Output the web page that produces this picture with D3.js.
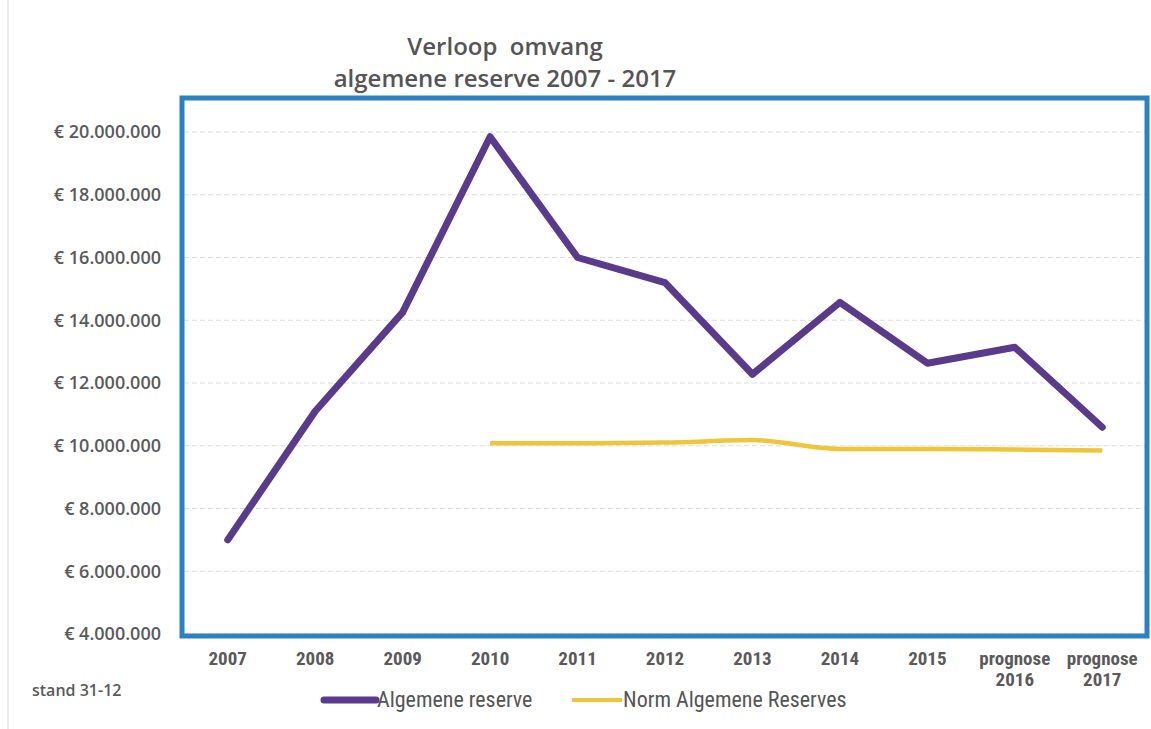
<!DOCTYPE html>
<html><head><meta charset="utf-8">
<script src="https://cdn.jsdelivr.net/npm/d3@7"></script>
<style>body{margin:0;background:#fff}svg{display:block}</style>
</head><body>
<svg id="c" width="1151" height="729"></svg>
<script>
const categories = ["2007","2008","2009","2010","2011","2012","2013","2014","2015","prognose 2016","prognose 2017"];
const reserve = [7.0e6, 11.1e6, 14.25e6, 19.85e6, 16.0e6, 15.2e6, 12.28e6, 14.57e6, 12.63e6, 13.14e6, 10.59e6];
const norm = [null, null, null, 10.08e6, 10.08e6, 10.1e6, 10.18e6, 9.9e6, 9.9e6, 9.88e6, 9.85e6];
const yTicks = [4e6,6e6,8e6,10e6,12e6,14e6,16e6,18e6,20e6];
const seriesNames = ["Algemene reserve","Norm Algemene Reserves"];
const colors = ["#5a3a8a","#f0c53a"];

const svg = d3.select("#c");
const L = 184, R = 1146, B = 634;
const x = d3.scalePoint().domain(categories).range([L, R]).padding(0.5);
const y = d3.scaleLinear().domain([4e6, 20e6]).range([B, 132]);

// faint scan edge at left
svg.append("line").attr("x1",8).attr("x2",8).attr("y1",0).attr("y2",729).attr("stroke","#e6e6e6").attr("stroke-width",1.5);

// gridlines
svg.append("g").selectAll("line").data(yTicks).join("line")
  .attr("x1", L).attr("x2", R).attr("y1", d=>y(d)).attr("y2", d=>y(d))
  .attr("stroke","#dcdcdc").attr("stroke-width",1).attr("stroke-dasharray","5,3");

// plot frame
svg.append("rect").attr("x",182).attr("y",98).attr("width",965).attr("height",538)
  .attr("fill","none").attr("stroke","#2a82c4").attr("stroke-width",5);

// y axis labels
const fmt = d => "€ " + d3.format(",")(d).replace(/,/g,".");
svg.append("g").selectAll("text").data(yTicks).join("text")
  .attr("x",161).attr("y",d=>y(d)).attr("dy","0.36em").attr("text-anchor","end")
  .attr("font-family","'Open Sans',sans-serif").attr("font-weight",600).attr("font-size",18)
  .attr("fill","#5a5a5a").text(fmt);

// x axis labels
const xl = svg.append("g").selectAll("text").data(categories).join("text")
  .attr("x",d=>x(d)).attr("y",665).attr("text-anchor","middle")
  .attr("font-family","'Liberation Sans Narrow','Roboto Condensed',sans-serif").attr("font-weight",700)
  .attr("font-size",19).attr("fill","#5a5a5a");
xl.each(function(d){
  const parts = d.split(" ");
  const t = d3.select(this);
  parts.forEach((p,i)=>t.append("tspan").attr("x",x(d)).attr("dy", i? "1.1em":0).text(p));
});

// lines
const lineStraight = d3.line().defined(d=>d[1]!=null).x(d=>x(d[0])).y(d=>y(d[1]));
const lineCurve = d3.line().defined(d=>d[1]!=null).x(d=>x(d[0])).y(d=>y(d[1])).curve(d3.curveMonotoneX);
svg.append("path").datum(categories.map((c,i)=>[c,norm[i]]))
  .attr("d",lineCurve).attr("fill","none").attr("stroke",colors[1]).attr("stroke-width",4.5);
svg.append("path").datum(categories.map((c,i)=>[c,reserve[i]]))
  .attr("d",lineStraight).attr("fill","none").attr("stroke",colors[0]).attr("stroke-width",7)
  .attr("stroke-linejoin","round").attr("stroke-linecap","round");

// title
svg.append("text").attr("x",505).attr("y",55).attr("text-anchor","middle")
  .attr("font-family","'Open Sans',sans-serif").attr("font-weight",600).attr("font-size",24)
  .attr("fill","#555").attr("xml:space","preserve").text("Verloop  omvang");
svg.append("text").attr("x",505).attr("y",87).attr("text-anchor","middle")
  .attr("font-family","'Open Sans',sans-serif").attr("font-weight",600).attr("font-size",24)
  .attr("fill","#555").text("algemene reserve 2007 - 2017");

// stand
svg.append("text").attr("x",32).attr("y",696)
  .attr("font-family","'Open Sans',sans-serif").attr("font-weight",600).attr("font-size",16)
  .attr("fill","#5a5a5a").text("stand 31-12");

// legend
const leg = [{x:324,w:52},{x:572,w:50}];
leg.forEach((l,i)=>{
  svg.append("line").attr("x1",l.x).attr("x2",l.x+l.w).attr("y1",700).attr("y2",700)
    .attr("stroke",colors[i]).attr("stroke-width", i?4:7).attr("stroke-linecap", i?"butt":"round");
  svg.append("text").attr("x",l.x+l.w+1).attr("y",707)
    .attr("font-family","'Liberation Sans Narrow','Roboto Condensed',sans-serif").attr("font-size",22)
    .attr("fill","#555").text(seriesNames[i]);
});
</script>
</body></html>
